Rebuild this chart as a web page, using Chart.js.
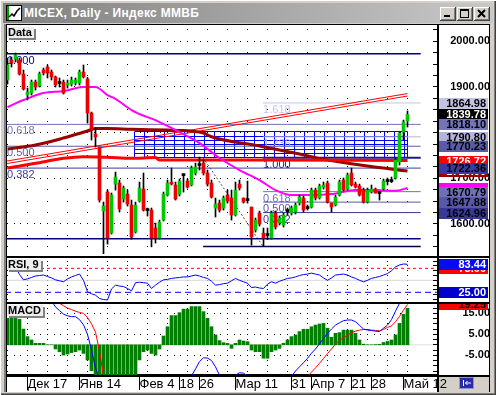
<!DOCTYPE html>
<html lang="ru">
<head>
<meta charset="UTF-8">
<title>MICEX, Daily - Индекс ММВБ</title>
<script src="https://cdn.jsdelivr.net/npm/chart.js"></script>
<style>
  body { margin:0; width:496px; height:395px; overflow:hidden; background:#d4d0c8; position:relative; font-family:"Liberation Sans", Arial, sans-serif; }
  .a { position:absolute; }
  #edge { left:0; top:0; width:496px; height:395px; box-shadow: inset 1px 1px #fff, inset -1px -1px #404040, inset -2px -2px #808080; }
  #title { left:3px; top:3px; width:490px; height:20px; background:linear-gradient(to right,#808080,#c8c8c8); }
  #ttext { left:24px; top:3px; line-height:20px; color:#fff; font-weight:bold; font-size:12px; letter-spacing:0.3px; white-space:nowrap; }
  .btn { top:7px; width:16px; height:14px; background:#d4d0c8; box-shadow: inset -1px -1px #404040, inset 1px 1px #fff, inset -2px -2px #808080; }
  #plot { left:6px; top:24px; width:484px; height:368px; background:#fff; }
  canvas { position:absolute; left:5px; z-index:1; }
  .ln { position:absolute; background:#000; z-index:2; }
  .plab { position:absolute; left:7px; z-index:3; background:#eeeeee; font-weight:bold; font-size:11px; line-height:11px; height:11px; padding:0 2px 0 1px; box-shadow: 2px 2px 0 #808080; color:#000; }
</style>
</head>
<body>
<div class="a" id="edge"></div>
<div class="a" id="title"></div>
<svg class="a" style="left:6px;top:5px" width="16" height="16">
  <rect x="0.5" y="0.5" width="15" height="15" fill="#fff" stroke="#000"/>
  <rect x="1" y="1" width="2" height="14" fill="#00a000"/>
  <polyline points="3,12 6,9 8,11 11,6 14,3" fill="none" stroke="#000" stroke-width="1.5"/>
</svg>
<div class="a" id="ttext">MICEX, Daily - Индекс ММВБ</div>
<div class="a btn" style="left:440px"><div class="a" style="left:4px;top:8px;width:6px;height:2px;background:#000"></div></div>
<div class="a btn" style="left:457px"><div class="a" style="left:3px;top:2px;width:7px;height:6px;border:1px solid #000;border-top-width:2px"></div></div>
<div class="a btn" style="left:474px"><svg width="16" height="14"><path d="M4 3 L11 10 M11 3 L4 10" stroke="#000" stroke-width="2"/></svg></div>

<div class="a" id="plot"></div>
<div class="a" style="left:439px;top:377px;width:50px;height:15px;background:#d4d0c8"></div>

<canvas id="cPrice" width="485" height="231" style="top:25px"></canvas>
<canvas id="cRsi" width="485" height="44" style="top:258px"></canvas>
<canvas id="cMacd" width="485" height="88" style="top:304px"></canvas>

<div class="ln" style="left:5px;top:24px;width:485px;height:1px"></div>
<div class="ln" style="left:4px;top:24px;width:2px;height:368px;background:#808080"></div>
<div class="ln" style="left:6px;top:24px;width:1px;height:368px"></div>
<div class="ln" style="left:489px;top:24px;width:1px;height:368px"></div>
<div class="ln" style="left:437px;top:25px;width:2px;height:367px"></div>
<div class="ln" style="left:6px;top:256px;width:484px;height:2px"></div>
<div class="ln" style="left:6px;top:302px;width:484px;height:2px"></div>
<div class="ln" style="left:6px;top:375px;width:484px;height:2px"></div>

<div class="plab" style="top:27px">Data</div>
<div class="plab" style="top:259px">RSI, 9</div>
<div class="plab" style="top:305px">MACD</div>

<svg class="a" style="left:459px;top:377px;z-index:3" width="15" height="12">
  <rect x="0" y="0" width="15" height="12" fill="#2b2ba8"/>
  <rect x="0.5" y="0.5" width="14" height="11" fill="none" stroke="#9090e0"/>
  <path d="M4.5 3v6 M12 6H6.5 M8.5 4L6.5 6l2 2" stroke="#fff" fill="none"/>
</svg>

<script>
// candles, one per trading day (index 0 = early Dec, index 100 = 13 May)
const candleOpen = [1915.2,1959.0,1961.2,1959.0,1928.3,1882.4,1886.7,1910.8,1902.1,1937.1,
  1943.7,1932.7,1921.8,1908.6,1910.8,1904.3,1906.4,1908.6,1908.6,1932.7,
  1917.4,1842.9,1796.9,1768.5,1628.3,1669.9,1580.1,1687.4,1689.6,1654.6,
  1665.5,1641.5,1582.3,1650.2,1676.5,1630.5,1630.5,1591.1,1569.2,1608.6,
  1663.4,1691.8,1685.3,1665.5,1707.2,1694.0,1685.3,1711.5,1729.1,1733.4,
  1711.5,1689.6,1634.9,1645.8,1634.9,1663.4,1656.8,1619.6,1687.4,1656.8,
  1652.4,1637.1,1586.7,1623.9,1580.1,1575.8,1569.2,1623.9,1602.0,1597.7,
  1628.3,1623.9,1626.1,1645.8,1656.8,1634.9,1637.1,1674.3,1656.8,1680.9,
  1689.6,1645.8,1641.5,1663.4,1696.2,1676.5,1711.5,1687.4,1683.1,1674.3,
  1648.0,1669.9,1676.5,1667.7,1676.5,1694.0,1694.0,1700.6,1735.6,1801.3,
  1825.4];
const candleHigh = [1963.4,1965.6,1974.3,1963.4,1937.1,1897.7,1915.2,1915.2,1932.7,1941.5,
  1948.1,1937.1,1924.0,1919.6,1915.2,1915.2,1921.8,1919.6,1937.1,1948.1,
  1921.0,1845.1,1810.1,1768.5,1648.0,1674.3,1667.7,1713.7,1696.2,1683.1,
  1674.3,1652.4,1648.0,1691.8,1711.5,1634.9,1634.9,1602.0,1608.6,1669.9,
  1696.2,1722.5,1691.8,1698.4,1707.2,1698.4,1726.9,1733.4,1746.6,1740.0,
  1718.1,1696.2,1656.8,1652.4,1661.2,1674.3,1674.3,1691.8,1696.2,1656.8,
  1694.0,1637.1,1613.0,1628.3,1591.1,1591.1,1628.3,1628.3,1617.4,1623.9,
  1634.9,1639.3,1645.8,1663.4,1661.2,1641.5,1678.7,1678.7,1687.4,1691.8,
  1694.0,1645.8,1663.4,1696.2,1700.6,1711.5,1722.5,1691.8,1687.4,1678.7,
  1678.7,1685.3,1678.7,1669.9,1698.4,1700.6,1702.8,1744.4,1801.3,1827.6,
  1847.3];
const candleLow = [1906.4,1943.7,1954.6,1926.2,1893.3,1871.4,1882.4,1893.3,1899.9,1926.2,
  1919.6,1915.2,1899.9,1899.9,1884.5,1897.7,1902.1,1904.3,1904.3,1919.6,
  1821.0,1783.8,1768.5,1648.0,1535.0,1556.0,1577.9,1674.3,1626.1,1648.0,
  1639.3,1567.0,1580.1,1648.0,1628.3,1617.4,1550.0,1558.2,1567.0,1606.4,
  1661.2,1685.3,1652.4,1661.2,1669.9,1678.7,1683.1,1707.2,1718.1,1707.2,
  1683.1,1656.8,1615.2,1626.1,1630.5,1645.8,1608.6,1617.4,1674.3,1645.8,
  1645.8,1553.9,1582.3,1595.5,1550.8,1566.0,1567.0,1588.9,1597.7,1593.3,
  1619.6,1619.6,1621.8,1641.5,1626.1,1630.5,1634.9,1652.4,1654.6,1676.5,
  1645.8,1626.1,1639.3,1661.2,1672.1,1674.3,1683.1,1678.7,1661.2,1645.8,
  1645.8,1667.7,1667.7,1652.4,1674.3,1685.3,1690.7,1698.4,1729.1,1783.8,
  1812.3];
const candleClose = [1948.1,1952.4,1969.9,1928.3,1895.5,1888.9,1910.8,1899.9,1928.3,1930.5,
  1930.5,1921.8,1904.3,1907.5,1886.7,1908.6,1915.2,1915.2,1932.7,1921.8,
  1842.9,1805.7,1790.4,1652.4,1639.3,1569.2,1663.4,1702.8,1632.7,1678.7,
  1643.6,1571.4,1641.5,1678.7,1630.5,1629.4,1569.2,1569.2,1604.2,1665.5,
  1689.6,1687.4,1654.6,1694.0,1706.0,1680.9,1722.5,1724.7,1728.0,1711.5,
  1687.4,1659.0,1643.6,1630.5,1656.8,1650.2,1619.6,1674.3,1678.7,1648.0,
  1651.3,1571.4,1608.6,1599.8,1569.2,1574.7,1623.9,1593.3,1613.0,1619.6,
  1627.2,1634.9,1641.5,1659.0,1630.5,1633.8,1674.3,1656.8,1683.1,1685.3,
  1648.0,1637.1,1659.0,1691.8,1674.3,1707.2,1685.3,1680.9,1663.4,1648.0,
  1674.3,1676.5,1667.7,1666.6,1694.0,1692.9,1692.9,1740.0,1799.1,1823.2,
  1839.78];

// moving averages on the price panel (index, value)
const magentaMaX = [0, 4, 9, 14, 19, 22, 25, 27, 31, 38, 43, 48, 53, 58, 63, 67, 71, 76, 81, 87, 92, 97, 100];
const magentaMaY = [1856.1, 1871.4, 1886.7, 1891.1, 1899.9, 1899.9, 1882.4, 1874.0, 1849.5, 1823.2, 1801.3, 1777.2, 1744.4, 1718.1, 1696.2, 1674.3, 1663.4, 1663.4, 1665.5, 1674.3, 1674.3, 1672.8, 1678.7];
const maroonMaX = [0, 7, 14, 20, 22, 25, 31, 40, 44, 49, 51, 63, 73, 80, 90, 100];
const maroonMaY = [1764.1, 1772.9, 1788.2, 1803.5, 1809.0, 1809.0, 1807.2, 1805.7, 1804.6, 1799.1, 1791.0, 1770.7, 1753.1, 1740.0, 1726.9, 1715.9];
const redMaX = [0, 7, 14, 19, 25, 31, 37, 38, 60, 100];
const redMaY = [1722.5, 1732.8, 1743.7, 1747.2, 1745.9, 1743.7, 1745.5, 1740.0, 1740.0, 1738.9];

// drawing tools
const channelX = [-0.2, 100];
const channelUpper = [1737.8, 1885.6];
const channelLower = [1732.3, 1880.2];
const fibAPrices = [1973.0, 1818.10, 1770.23, 1722.36, 1567.4];
const fibALabels = ['1.000', '0.618', '0.500', '0.382', ''];
const fibASpan = [-0.625, 103.3];
const fibBPrices = [1864.98, 1790.80, 1745.0, 1670.79, 1647.88, 1624.96];
const fibBLabels = ['1.618', '1.236', '1.000', '0.618', '0.500', '0.382'];
const fibBSpan = [63.9, 103.3];
const fibBBase = 1550.8;
const fibBBaseSpan = [48.9, 103.3];
const trendX = [48.9, 63.9];
const trendY = [1745.0, 1550.8];
const gridBoxX = [31.7, 100];
const gridBoxY = [1745.0, 1802.0];

// indicators
const rsiValues = [82,80,78,62,51,53,56,59,60,61,
  58,55,51,49,47,53,57,60,63,50,
  26,22,19,12,10,9,32,40,38,37,
  33,28,45,46,45,44,33,40,46,51,
  52,54,55,56,57,57,59,61,59,56,
  54,48,40,41,43,44,49,54,50,47,
  44,35,36,34,33,42,47,44,48,51,
  54,55,57,60,62,63,65,63,61,55,
  50,55,61,62,63,61,57,54,50,47,
  50,54,56,58,61,64,70,78,82,84,
  83.44];
const rsiLevels = [75, 50, 25];
const macdLine = [30,29.5,29,28,27,26,25,24,23,22,
  21,21,18,16.3,14.6,13.8,13.4,13.4,12,9.5,
  5,-2.5,-11,-16,-19,-21,-23,-24,-25,-25,
  -25,-24,-23,-22,-21,-20,-19.5,-19,-18.5,-18,
  -17.5,-17,-16.5,-16,-15.5,-15,-14.8,-11.5,-8,-6.2,
  -6.3,-7.5,-10.5,-14.5,-16,-16.5,-16,-14.5,-13.3,-13.5,
  -14.8,-16,-17,-18,-19,-19.5,-19.5,-19,-18,-17,
  -16,-15,-12.5,-10.5,-8.5,-6.5,-4,-2,0.5,3,
  5.5,7.5,9.4,10.5,11.5,11.8,11.8,11,9.3,7.5,
  7,6.8,6.5,6.3,7.9,9.4,12,16,19.8,23,
  26];
const signalLine = [32,31.5,31,30,29.5,28.5,27.5,26.5,25.5,24.5,
  23.5,22,20.5,19.8,18.6,17.5,16.8,16,15.4,15,
  13,10,6,-3,-14.6,-17,-18.5,-20,-21,-22,
  -22.5,-23,-23,-23,-22.5,-22,-21.5,-21,-20.5,-20,
  -19.5,-19,-18.5,-18,-17.5,-17,-16.5,-16,-15.5,-15,
  -15,-15,-15,-15,-15.5,-16,-16.5,-16.5,-16.5,-16.5,
  -16.5,-17,-17,-17.5,-18,-18.5,-19,-19,-19,-19,
  -18.5,-18,-17.5,-17,-16,-15,-13,-11,-8.8,-6.5,
  -4.2,-2,0.4,2,3.5,4.5,5.8,6.5,7,7.3,
  7.3,7,6.8,6.7,7.3,8.3,9,11,13.5,16.5,
  19.25];
const macdHist = [12.6,14.2,15,12.1,7.5,3.9,2.3,0.7,0.7,0.7,
  0,0,-2,-3.3,-4.9,-4.4,-3.7,-3.3,-2.5,-4.1,
  -7.2,-12.3,-17,-21,-24,-26,-25,-23,-21,-19,
  -18,-17,-15.5,-7.2,-3.3,-2.5,-4.1,-4.9,-2,4.2,
  8.6,13.9,13.9,15.3,17,17,18.2,18.2,18.2,15.8,
  12.6,8.6,4.7,2,1,0.7,-1.7,0.7,2.3,1.8,
  1.5,-2.5,-3.3,-3.3,-6.4,-6.4,-3.3,-2.5,-1.7,0.7,
  2.3,3.9,4.7,6.3,7.4,7.4,8.6,9.4,9.9,10.2,
  7.9,3.6,5.5,5.8,7,7,7,5.5,2.3,0.3,
  0,0,0.1,0.2,1.1,1.6,2.3,4.7,10.2,14.5,
  17.4];

// axes
const priceTicks = [1550,1575,1600,1625,1650,1675,1700,1725,1750,1775,1800,1825,1850,1875,1900,1925,1950,1975,2000,2025];
const priceTickLabels = [1600, 1700, 1900, 2000];
const priceGridRows = [1600, 1700, 1800, 1900, 2000];
const rsiTicks = [10,20,30,40,50,60,70,80,90];
const macdTicks = [-12.5,-10,-7.5,-5,-2.5,0,2.5,5,7.5,10,12.5,15,17.5];
const macdTickLabels = [-5, 5, 15];
const dateTickPos = [5, 18, 33, 43, 48, 57, 71, 76, 86, 91, 99];
const dateTickText = ['Дек 17', 'Янв 14', 'Фев 4', '18', '26', 'Мар 11', '31', 'Апр 7', '21', '28', 'Май 12'];
const gridCols = [0,5,10,15,20,25,30,35,40,45,50,55,60,65,70,75,80,85,90,95,100];

// value tags on the right axis
const priceTagText = ['1864.98','1839.78','1818.10','1790.80','1770.23','1726.72','1710.00','1722.36','1678.70','1670.79','1647.88','1624.96'];
const priceTagAt = [1864.98, 1839.78, 1818.10, 1790.80, 1770.23, redMaY[redMaY.length - 1], maroonMaY[maroonMaY.length - 1], 1722.36, magentaMaY[magentaMaY.length - 1], 1670.79, 1647.88, 1624.96];
const rsiTagText = ['75.00', '83.44', '25.00'];
const rsiTagAt = [75, 83.44, 25];
const macdTagText = ['19.25'];
const macdTagAt = [19.25];

// styles
const FONT = '"Liberation Sans", Arial, sans-serif';
const priceTagBg = ['#c4c4e2','#000000','#7474ba','#b4b4da','#5a5aaa','#ff0000','#990000','#3a3a9e','#ff00ff','#7070b8','#5858a8','#383898'];
const priceTagFg = ['#000','#fff','#000','#000','#000','#fff','#fff','#000','#ff00ff','#000','#000','#000'];
const fibAColors = ['#00007a', '#7474ba', '#5a5aaa', '#3a3a9e', '#00007a'];
const fibBColors = ['#c4c4e2', '#b4b4da', '#1a1a8a', '#7070b8', '#5858a8', '#383898'];

const idx = candleOpen.map((_, i) => i);

function seg(xs, ys, color, width, order, dash) {
  return { type: 'line', data: xs.map((x, k) => ({ x, y: ys[k] })), borderColor: color, borderWidth: width,
    pointRadius: 0, tension: 0, order, borderDash: dash || [], clip: 0 };
}
function curve(xs, ys, color, width, order) {
  const d = seg(xs, ys, color, width, order);
  d.cubicInterpolationMode = 'monotone';
  return d;
}
function xHidden() {
  return { type: 'linear', min: -0.625, max: 107.375, offset: false, display: false, grid: { offset: false } };
}
function yRight(min, max, ticks, labelFn, pad) {
  return {
    position: 'right', min, max, offset: false,
    grid: { display: false, drawTicks: false }, border: { display: false },
    afterBuildTicks: s => { s.ticks = ticks.map(v => ({ value: v })); },
    afterFit: s => { s.width = 53; s.paddingTop = 0; s.paddingBottom = 0; },
    ticks: { autoSkip: false, crossAlign: 'far', padding: pad, color: '#000',
      font: { family: FONT, size: 11, weight: 'bold' }, callback: labelFn }
  };
}

function dotGrid(rows, colDots) {
  return {
    id: 'dotGrid',
    beforeDatasetsDraw(chart) {
      const { ctx, scales: { x, y } } = chart;
      const left = x.getPixelForValue(0), right = x.getPixelForValue(100);
      ctx.save();
      ctx.fillStyle = '#000';
      rows.forEach(v => {
        const py = Math.floor(y.getPixelForValue(v));
        for (let px = left; px <= right + 0.5; px += 20 / 3) ctx.fillRect(Math.floor(px), py, 1, 1);
      });
      gridCols.forEach(c => {
        const px = Math.floor(x.getPixelForValue(c));
        colDots.forEach(v => ctx.fillRect(px, Math.floor(y.getPixelForValue(v)), 1, 1));
      });
      ctx.restore();
    }
  };
}
function tickMarks(values) {
  return {
    id: 'tickMarks',
    afterDraw(chart) {
      const { ctx, chartArea, scales: { y } } = chart;
      ctx.save();
      ctx.fillStyle = '#000';
      values.forEach(v => ctx.fillRect(chartArea.right - 4, Math.floor(y.getPixelForValue(v)), 4, 1));
      ctx.restore();
    }
  };
}
function valueTags(texts, at, bg, fg) {
  return {
    id: 'valueTags',
    afterDraw(chart) {
      const { ctx, chartArea, scales: { y } } = chart;
      ctx.save();
      ctx.font = 'bold 11px ' + FONT;
      ctx.textAlign = 'right';
      ctx.textBaseline = 'middle';
      texts.forEach((t, k) => {
        const top = Math.round(y.getPixelForValue(at[k])) - 5;
        ctx.fillStyle = bg[k];
        ctx.fillRect(chartArea.right + 1, top, 50, 11);
        ctx.fillStyle = fg[k];
        ctx.fillText(t, chartArea.right + 49, top + 6);
      });
      ctx.restore();
    }
  };
}
// fibonacci captions and the blue grid box, under the candles
const priceTools = {
  id: 'priceTools',
  beforeDatasetsDraw(chart) {
    const { ctx, chartArea, scales: { x, y } } = chart;
    ctx.save();
    const bx0 = Math.floor(x.getPixelForValue(gridBoxX[0])) + 0.5;
    const bx1 = Math.floor(x.getPixelForValue(gridBoxX[1])) + 0.5;
    const byTop = y.getPixelForValue(gridBoxY[1]);
    const byBot = y.getPixelForValue(gridBoxY[0]);
    ctx.strokeStyle = '#0000ff';
    ctx.lineWidth = 1;
    ctx.beginPath();
    for (let v = gridBoxX[0]; v < gridBoxX[1]; v += 2.5) {
      const px = Math.floor(x.getPixelForValue(v)) + 0.5;
      ctx.moveTo(px, byTop); ctx.lineTo(px, byBot);
    }
    ctx.moveTo(bx1, byTop); ctx.lineTo(bx1, byBot);
    for (let k = 0; k <= 6; k++) {
      const py = Math.floor(byTop + (byBot - byTop) * k / 6) + 0.5;
      ctx.moveTo(bx0, py); ctx.lineTo(bx1, py);
    }
    ctx.stroke();
    ctx.font = '11px ' + FONT;
    ctx.textBaseline = 'top';
    ctx.textAlign = 'left';
    fibAPrices.forEach((p, k) => {
      ctx.fillStyle = fibAColors[k];
      ctx.fillText(fibALabels[k], chartArea.left + 2, Math.round(y.getPixelForValue(p)) + 1);
    });
    const bxl = x.getPixelForValue(fibBSpan[0]);
    fibBPrices.forEach((p, k) => {
      ctx.fillStyle = fibBColors[k];
      ctx.fillText(fibBLabels[k], bxl, Math.round(y.getPixelForValue(p)) + 1);
    });
    ctx.restore();
  }
};

const baseOptions = {
  responsive: false, animation: false, devicePixelRatio: 1, events: [],
  layout: { padding: 0, autoPadding: false },
  plugins: { legend: { display: false }, tooltip: { enabled: false } }
};

// price panel
const priceSets = [];
fibAPrices.forEach((p, k) => priceSets.push(seg(fibASpan, [p, p], fibAColors[k], (k === 0 || k === 4) ? 1.5 : 1, 9)));
fibBPrices.forEach((p, k) => priceSets.push(seg(fibBSpan, [p, p], fibBColors[k], k === 2 ? 2 : 1, 9)));
priceSets.push(seg(fibBBaseSpan, [fibBBase, fibBBase], '#000050', 1.5, 9));
priceSets.push(seg(trendX, trendY, '#505050', 1, 9, [2, 2]));
priceSets.push(seg(channelX, channelUpper, '#ff0000', 1, 8));
priceSets.push(seg(channelX, channelLower, '#ff0000', 1, 8));
priceSets.push(curve(redMaX, redMaY, '#ff0000', 3, 7));
priceSets.push(curve(maroonMaX, maroonMaY, '#990000', 3, 7));
priceSets.push(curve(magentaMaX, magentaMaY, '#ff00ff', 2, 6));
priceSets.push({
  type: 'bar', order: 2, grouped: false, barThickness: 1, clip: 0,
  data: idx.map(i => ({ x: i, y: [candleLow[i], candleHigh[i]] })),
  backgroundColor: '#000'
});
priceSets.push({
  type: 'bar', order: 1, grouped: false, barThickness: 3, minBarLength: 2, clip: 0,
  data: idx.map(i => ({ x: i, y: [candleOpen[i], candleClose[i]] })),
  backgroundColor: idx.map(i => {
    const d = candleClose[i] - candleOpen[i];
    return Math.abs(d) < 1.5 ? '#000' : (d > 0 ? '#00c800' : '#ee0000');
  }),
  borderWidth: 0
});

new Chart(document.getElementById('cPrice'), {
  type: 'bar',
  data: { datasets: priceSets },
  options: Object.assign({}, baseOptions, {
    scales: {
      x: xHidden(),
      y: yRight(1529.9, 2035.7, priceTicks, v => priceTickLabels.includes(v) ? v.toFixed(2) : '', 9)
    }
  }),
  plugins: [dotGrid(priceGridRows, priceTicks), priceTools, tickMarks(priceTicks),
    valueTags(priceTagText, priceTagAt, priceTagBg, priceTagFg)]
});

// RSI panel
new Chart(document.getElementById('cRsi'), {
  type: 'line',
  data: {
    datasets: [
      seg([-0.625, 107.375], [rsiLevels[1], rsiLevels[1]], '#d8d8d8', 1, 5),
      seg([-0.625, 107.375], [rsiLevels[0], rsiLevels[0]], '#ff0000', 1, 4, [3, 3]),
      seg([-0.625, 107.375], [rsiLevels[2], rsiLevels[2]], '#0000ff', 1, 4, [6, 4]),
      seg(idx, rsiValues, '#0000ff', 1, 1)
    ]
  },
  options: Object.assign({}, baseOptions, {
    scales: { x: xHidden(), y: yRight(4.8, 96.5, rsiTicks, () => '', 9) }
  }),
  plugins: [dotGrid([], rsiTicks), tickMarks(rsiTicks),
    valueTags(rsiTagText, rsiTagAt, ['#ff0000', '#0a0af0', '#0000cc'], ['#fff', '#fff', '#fff'])]
});

// MACD panel with the date axis
new Chart(document.getElementById('cMacd'), {
  type: 'bar',
  data: {
    datasets: [
      seg([-0.625, 107.375], [0, 0], '#e0e0e0', 1, 6),
      { type: 'bar', order: 5, grouped: false, barThickness: 3, clip: 0,
        data: idx.map(i => ({ x: i, y: macdHist[i] })), backgroundColor: '#008000' },
      seg(idx, signalLine, '#ff0000', 1, 2),
      seg(idx, macdLine, '#0000ff', 1, 1)
    ]
  },
  options: Object.assign({}, baseOptions, {
    scales: {
      x: {
        type: 'linear', min: -0.625, max: 107.375, offset: false, position: 'bottom',
        afterBuildTicks: s => { s.ticks = dateTickPos.map(v => ({ value: v })); },
        afterFit: s => { s.height = 17; s.paddingLeft = 0; s.paddingRight = 0; },
        grid: { display: true, drawOnChartArea: false, drawTicks: true, tickLength: 15, color: '#000', lineWidth: 1, offset: false },
        border: { display: true, color: '#000', width: 2 },
        ticks: { autoSkip: false, maxRotation: 0, minRotation: 0, align: 'start', padding: -13, color: '#000',
          font: { family: FONT, size: 13 }, callback: (v, i) => dateTickText[i] }
      },
      y: yRight(-14.38, 19.43, macdTicks, v => macdTickLabels.includes(v) ? v.toFixed(2) : '', 21)
    }
  }),
  plugins: [dotGrid(macdTickLabels, macdTicks), tickMarks(macdTicks),
    valueTags(macdTagText, macdTagAt, ['#ff0000'], ['#000'])]
});
</script>
</body>
</html>
